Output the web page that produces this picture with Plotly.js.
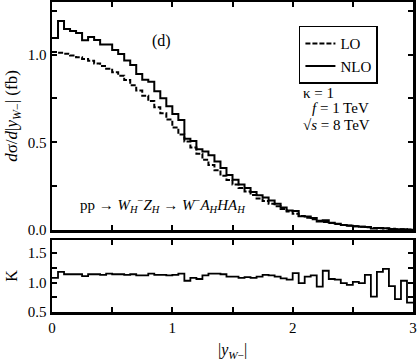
<!DOCTYPE html>
<html>
<head>
<meta charset="utf-8">
<script src="https://cdn.plot.ly/plotly-3.0.1.min.js"></script>
<style>
  html, body { margin: 0; padding: 0; background: #fff; }
  #chart { width: 418px; height: 362px; }
</style>
</head>
<body>
<div id="chart"></div>
<script>
// 60 bins of width 0.05 in |y_W-| from 0 to 3
const binWidth = 0.05;

const loValues = [
  1.015, 1.01, 1.005, 0.995, 0.985, 0.975, 0.965, 0.95, 0.935, 0.92,
  0.90, 0.88, 0.855, 0.825, 0.795, 0.765, 0.735, 0.70, 0.665, 0.63,
  0.585, 0.545, 0.505, 0.47, 0.435, 0.40, 0.37, 0.34, 0.31, 0.285,
  0.26, 0.24, 0.22, 0.20, 0.18, 0.165, 0.15, 0.135, 0.12, 0.106,
  0.093, 0.08, 0.07, 0.061, 0.053, 0.046, 0.04, 0.034, 0.029, 0.025,
  0.021, 0.018, 0.015, 0.012, 0.010, 0.008, 0.0065, 0.005, 0.004, 0.003,
];

const nloValues = [
  1.095, 1.192, 1.146, 1.134, 1.123, 1.082, 1.100, 1.083, 1.057, 1.058,
  1.026, 1.003, 0.966, 0.941, 0.890, 0.857, 0.845, 0.791, 0.751, 0.706,
  0.661, 0.627, 0.520, 0.508, 0.461, 0.448, 0.426, 0.391, 0.353, 0.314,
  0.286, 0.259, 0.240, 0.216, 0.198, 0.186, 0.168, 0.149, 0.128, 0.111,
  0.108, 0.079, 0.077, 0.068, 0.049, 0.055, 0.042, 0.036, 0.029, 0.024,
  0.021, 0.018, 0.017, 0.009, 0.012, 0.0098, 0.0061, 0.0036, 0.0041, 0.002,
];

const kValues = [
  1.08, 1.18, 1.14, 1.14, 1.14, 1.11, 1.14, 1.14, 1.13, 1.15,
  1.14, 1.14, 1.13, 1.14, 1.12, 1.12, 1.15, 1.13, 1.13, 1.12,
  1.13, 1.15, 1.03, 1.08, 1.06, 1.12, 1.15, 1.15, 1.14, 1.10,
  1.10, 1.08, 1.09, 1.08, 1.10, 1.13, 1.12, 1.10, 1.07, 1.05,
  1.16, 0.99, 1.10, 1.12, 0.93, 1.20, 1.06, 1.05, 0.99, 0.96,
  1.01, 0.99, 1.13, 0.76, 1.18, 1.23, 0.94, 0.72, 1.03, 0.66,
];

const xTicks = [0, 1, 2, 3];
const mainYTicks = [0, 0.5, 1.0];
const kYTicks = [0.5, 1.0, 1.5];

// bin edges for a step ('hv') line, last value repeated to close the final bin
function binEdges(n) {
  return Array.from({ length: n + 1 }, (_, i) => +(i * binWidth).toFixed(2));
}
function stepY(vals) {
  return vals.concat(vals[vals.length - 1]);
}

const serif = 'Liberation Serif, Times New Roman, serif';

const traces = [
  {
    x: binEdges(loValues.length),
    y: stepY(loValues),
    name: 'LO',
    type: 'scatter',
    mode: 'lines',
    line: { shape: 'hv', color: '#000', width: 2, dash: '5px,2px' },
    xaxis: 'x',
    yaxis: 'y',
  },
  {
    x: binEdges(nloValues.length),
    y: stepY(nloValues),
    name: 'NLO',
    type: 'scatter',
    mode: 'lines',
    line: { shape: 'hv', color: '#000', width: 2 },
    xaxis: 'x',
    yaxis: 'y',
  },
  {
    x: binEdges(kValues.length),
    y: stepY(kValues),
    name: 'K',
    type: 'scatter',
    mode: 'lines',
    line: { shape: 'hv', color: '#000', width: 1.8 },
    showlegend: false,
    xaxis: 'x2',
    yaxis: 'y2',
  },
];

const axisCommon = {
  showline: true,
  linecolor: '#000',
  linewidth: 2.5,
  mirror: 'ticks',
  ticks: 'inside',
  ticklen: 5,
  tickwidth: 2,
  tickcolor: '#000',
  showgrid: false,
  zeroline: false,
  tickfont: { family: serif, size: 15, color: '#000' },
};

const layout = {
  width: 418,
  height: 362,
  margin: { l: 52, r: 5, t: 2, b: 50 },
  font: { family: serif, size: 15, color: '#000' },
  paper_bgcolor: '#fff',
  plot_bgcolor: '#fff',
  xaxis: {
    ...axisCommon,
    domain: [0, 1],
    anchor: 'y',
    range: [0, 3],
    tickvals: xTicks,
    showticklabels: false,
    minor: { dtick: 0.5, ticks: 'inside', ticklen: 5, tickwidth: 2, tickcolor: '#000' },
  },
  yaxis: {
    ...axisCommon,
    domain: [0.2645, 1],
    anchor: 'x',
    range: [0, 1.3],
    tickvals: mainYTicks,
    tickformat: '.1f',
    minor: { dtick: 0.25, ticks: 'inside', ticklen: 5, tickwidth: 2, tickcolor: '#000' },
    title: {
      text: '<i>d</i>σ/<i>d</i>|<i>y</i><sub><i>W</i>−</sub>| (fb)',
      font: { family: serif, size: 17 },
      standoff: 6,
    },
  },
  xaxis2: {
    ...axisCommon,
    domain: [0, 1],
    anchor: 'y2',
    range: [0, 3],
    tickvals: xTicks,
    minor: { dtick: 0.5, ticks: 'inside', ticklen: 5, tickwidth: 2, tickcolor: '#000' },
    title: {
      text: '|<i>y</i><sub><i>W</i>−</sub>|',
      font: { family: serif, size: 16 },
      standoff: 10,
    },
  },
  yaxis2: {
    ...axisCommon,
    domain: [0, 0.232],
    anchor: 'x2',
    range: [0.5, 1.72],
    tickvals: kYTicks,
    tickformat: '.1f',
    minor: { dtick: 0.25, ticks: 'inside', ticklen: 5, tickwidth: 2, tickcolor: '#000' },
    title: { text: 'K', font: { family: serif, size: 16 }, standoff: 6 },
  },
  showlegend: true,
  legend: {
    x: 0.684,
    y: 0.923,
    xanchor: 'left',
    yanchor: 'top',
    bgcolor: '#fff',
    bordercolor: '#000',
    borderwidth: 1.5,
    font: { family: serif, size: 15, color: '#000' },
    itemwidth: 30,
    tracegroupgap: 0,
  },
  annotations: [
    { text: '(d)', x: 0.91, y: 1.08, xref: 'x', yref: 'y', showarrow: false, font: { size: 16 } },
    { text: 'κ = 1', x: 2.07, y: 0.784, xref: 'x', yref: 'y', xanchor: 'left', showarrow: false, font: { size: 15 } },
    { text: '<i>f</i> = 1 TeV', x: 2.14, y: 0.693, xref: 'x', yref: 'y', xanchor: 'left', showarrow: false, font: { size: 15 } },
    { text: '√<i>s</i> = 8 TeV', x: 2.07, y: 0.60, xref: 'x', yref: 'y', xanchor: 'left', showarrow: false, font: { size: 15 } },
    {
      text: 'pp → <i>W</i><sub><i>H</i></sub><sup>−</sup><i>Z</i><sub><i>H</i></sub> → <i>W</i><sup>−</sup><i>A</i><sub><i>H</i></sub><i>HA</i><sub><i>H</i></sub>',
      x: 0.92, y: 0.142, xref: 'x', yref: 'y', showarrow: false, font: { size: 15 },
    },
  ],
};

Plotly.newPlot('chart', traces, layout, { displayModeBar: false, staticPlot: true });
</script>
</body>
</html>
